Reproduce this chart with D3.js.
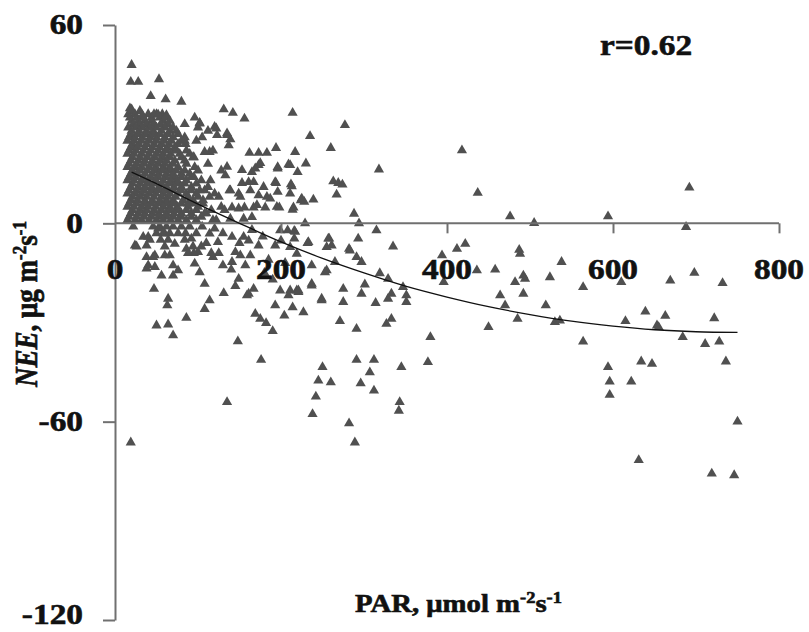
<!DOCTYPE html>
<html>
<head>
<meta charset="utf-8">
<script src="https://cdn.jsdelivr.net/npm/d3@7"></script>
<style>
  body { margin: 0; background: #fff; }
  svg { display: block; }
  text { font-family: "Liberation Serif", "Times New Roman", serif; font-weight: bold; fill: #111; stroke: #111; stroke-width: 0.6; }
  .axis path, .axis line { stroke: #707070; stroke-width: 2; }
  .pt { fill: #505050; }
  .fit { fill: none; stroke: #111; stroke-width: 1.3; }
</style>
</head>
<body>
<svg id="chart"></svg>
<script>
const width = 809, height = 632;

const xTicks = [0, 200, 400, 600, 800];
const yTicks = [60, 0, -60, -120];

// dense core near low PAR: one NEE row and the PAR values read along it
const denseNee = [34, 33, 32, 31, 30, 29, 28, 27, 26, 25, 24, 23, 22, 21, 20, 19, 18,
  17, 16, 15, 14, 13, 12, 11, 10, 9, 8, 7, 6, 5, 4, 3, 2, 1];
const densePar = [
  [20, 30],
  [16, 24, 40, 50],
  [18, 26, 34, 44, 54, 62],
  [20, 28, 36, 44, 58, 66],
  [22, 30, 38, 47, 55, 64],
  [16, 25, 33, 42, 50, 60, 70],
  [20, 29, 38, 46, 56, 66, 74],
  [19, 28, 37, 46, 54, 64, 76],
  [17, 24, 33, 42, 50, 60, 70, 84],
  [15, 23, 32, 41, 50, 59, 68, 80],
  [21, 29, 38, 47, 56, 65, 76],
  [19, 27, 36, 45, 54, 63, 72],
  [17, 25, 34, 43, 52, 62, 72, 86],
  [15, 23, 32, 41, 50, 58, 67, 78, 90],
  [21, 30, 39, 48, 57, 66, 80, 94],
  [19, 28, 36, 45, 54, 62, 72, 84],
  [17, 26, 35, 44, 52, 60, 70, 86],
  [15, 24, 32, 41, 49, 58, 66, 76, 96],
  [21, 30, 39, 48, 57, 66, 74, 84, 100],
  [19, 27, 36, 45, 53, 62, 70, 80, 90],
  [17, 25, 34, 43, 52, 61, 70, 80, 95],
  [15, 23, 32, 40, 49, 58, 67, 75, 86, 104],
  [21, 30, 39, 47, 56, 66, 75, 84, 98],
  [19, 28, 36, 44, 53, 62, 71, 80, 92, 112],
  [17, 26, 35, 44, 53, 62, 70, 80, 92, 108],
  [15, 24, 32, 41, 49, 58, 66, 76, 86, 98, 120],
  [21, 30, 38, 47, 56, 64, 73, 88, 100, 114],
  [19, 27, 36, 45, 54, 62, 70, 82, 94, 106],
  [17, 26, 35, 44, 53, 62, 70, 80, 94, 106],
  [15, 23, 32, 40, 49, 58, 66, 75, 88, 100, 128],
  [21, 30, 38, 47, 56, 66, 75, 86, 98, 116],
  [19, 28, 36, 45, 53, 62, 71, 80, 92, 110],
  [17, 26, 35, 44, 53, 62, 70, 80, 92, 104],
  [15, 24, 32, 41, 50, 58, 67, 76, 86, 98, 118]
];

// [PAR, NEE] above the zero line
const pointsAbove = [
  [20,47.9],[19,42.8],[28,42.8],[53,43.6],[43,38.5],[61,37.5],[80,36.8],[20,34.5],[33,32.7],[47,33],
  [57,33],[131,34.5],[142,33.4],[156,31.7],[214,33.4],[102,30.4],[122,28.7],[135,27.2],[139,25.4],[162,21.3],
  [173,21.3],[183,21.3],[194,22.8],[217,21.6],[175,18.2],[196,17],[211,17.6],[165,15.5],[153,12.2],[167,12.5],
  [179,11],[194,12.2],[212,11.8],[151,8],[183,8],[196,9.5],[211,9],[141,4.8],[156,4.8],[167,4.8],
  [181,4.8],[198,4.8],[215,4.8],[277,29.7],[235,26.4],[260,22.8],[418,22.1],[209,17.8],[230,18.1],[318,16.3],
  [220,15.5],[263,12.7],[269,12.2],[274,11.7],[213,11.2],[267,8.7],[437,9.2],[224,7],[228,6.5],[239,7.2],
  [214,4.1],[288,2.9],[476,2.1],[505,0.1],[229,0],[294,0],[594,2.1],[692,10.8],[18,34.8],[52,32.9],
  [62,32.7],[102,30.2],[84,25],[98,25],[120,29.2],[123,26.7],[114,21.6],[108,21.6],[74,22.1],[139,10],
  [149,9],[161,12.5],[163,10],[173,8.5],[187,7.5],[193,12.5],[225,7.5],[195,5],[171,5.5],[149,4.5],
  [139,1.4],[155,1.4],[165,1.9],[135,26.7],[137,23.6],[173,17.6],[169,16.6],[196,16.6],[153,16.1],[135,17.1],
  [133,14.5],[85,24],[95,20],[105,26],[112,18],[92,14],[102,10],[115,13],[125,8],[88,6],
  [108,3],[122,1],[132,4],[138,10],[128,16],[118,22],[100,29],[84,30],[112,28],[96,32]
];

// [PAR, NEE] below the zero line
const pointsBelow = [
  [199,-2.1],[208,-2.1],[216,-2.3],[200,-5.2],[315,-2.1],[216,-4.6],[232,-6],[258,-4.6],[261,-6.7],[293,-4.6],
  [335,-7],[422,-6.2],[412,-7.7],[282,-7.7],[487,-8],[688,-1.1],[24,-6.7],[38,-6.7],[38,-10.2],[46,-10.2],
  [38,-13.7],[56,-15.8],[47,-19.8],[64,-22.8],[63,-24.8],[50,-30.9],[64,-30.6],[70,-33.9],[86,-28.6],[114,-23.3],
  [108,-25.9],[131,-21.1],[148,-35.7],[176,-41.3],[135,-54.1],[19,-66.3],[159,-21.8],[167,-19.8],[169,-27.4],[175,-28.9],
  [182,-30.2],[190,-32.6],[193,-24.8],[204,-27.9],[214,-25.4],[199,-20.3],[209,-21.8],[219,-20.3],[283,-8.2],[291,-10.2],
  [297,-11.7],[265,-11.7],[255,-14.2],[237,-12.7],[237,-18.3],[221,-20.3],[227,-26.9],[249,-22.8],[275,-19.8],[275,-23.8],
  [271,-29.6],[291,-31.9],[297,-21.3],[301,-18.5],[314,-24.1],[319,-15.1],[329,-16.8],[329,-22.8],[333,-21.3],[347,-19.3],
  [351,-21.8],[351,-23.8],[327,-30.4],[333,-28.9],[380,-34.4],[377,-42],[394,-9.7],[396,-17.8],[436,-14.2],[458,-14],
  [464,-21.8],[470,-24.8],[450,-31.4],[488,-9.2],[482,-17.8],[492,-15.8],[494,-16.8],[492,-21.3],[485,-28.9],[519,-24.8],
  [524,-16.3],[538,-11.7],[530,-29.9],[536,-29.4],[250,-43.5],[245,-47.6],[260,-48.1],[242,-52.4],[238,-57.7],[282,-60.5],
  [289,-66.3],[291,-41.3],[312,-41.3],[307,-45.1],[296,-48.4],[312,-50.6],[345,-43.5],[343,-54.1],[342,-56.7],[564,-19.3],
  [610,-17.8],[669,-17.3],[698,-15],[732,-18.1],[639,-26.7],[663,-28],[615,-29.6],[653,-30.9],[655,-31.4],[722,-28.7],
  [684,-34.4],[711,-36.5],[728,-35.8],[564,-35.8],[634,-41.8],[647,-42.5],[736,-41.8],[594,-43.5],[596,-47.9],[596,-51.9],
  [622,-47.9],[750,-60],[631,-71.6],[719,-75.7],[746,-76.2],[34,-4.1],[40,-4.1],[52,-1.6],[60,-3.1],[72,-6.2],
  [66,-9.7],[60,-9.7],[48,-9.7],[40,-12.7],[48,-13.2],[70,-12.7],[70,-15.8],[76,-14.2],[86,-7.7],[92,-4.6],
  [100,-8.7],[96,-12.2],[102,-14.8],[108,-18.3],[118,-10.2],[114,-3.1],[120,-1.6],[124,-5.7],[130,-12.7],[141,-4.1],
  [155,-4.1],[161,-5.2],[173,-6.7],[193,-6.7],[211,-7.2],[233,-5.7],[219,-9.2],[255,-7.2],[257,-4.6],[145,-8.7],
  [151,-9.7],[163,-9.7],[141,-11.7],[157,-12.7],[253,-14.8],[149,-16.8],[211,-20.3],[221,-20.8],[237,-18.8],[249,-23.3],
  [161,-21.3],[217,-2.6],[85,-3],[95,-9],[110,-6],[125,-9],[140,-14],[150,-6],[165,-2],[178,-4],
  [185,-11],[180,-15],[190,-17],[205,-12],[145,-19],[22,-1],[46,-1],[54,-1],[62,-1],[70,-1],
  [80,-1],[90,-1],[105,-1],[50,-3],[58,-3],[66,-3],[76,-3],[98,-3],[130,-3],[42,-5],
  [55,-5],[64,-5],[84,-5],[26,-7],[60,-7],[94,-7],[104,-7],[88,-9],[116,-9]
];

// fitted curve at these PAR values
const fitPar = [20, 50, 100, 150, 200, 250, 300, 350, 400, 450, 500, 550, 600, 650, 700, 750];
const fitNee = [15.5, 12, 5.8, 0, -5.6, -10.6, -15, -19, -22.3, -25.2, -27.6, -29.6, -31.1, -32.2, -32.8, -33];

const points = [];
denseNee.forEach((n, i) => densePar[i].forEach(p => points.push([p, n])));
pointsAbove.forEach(d => points.push(d));
pointsBelow.forEach(d => points.push(d));

const svg = d3.select('#chart').attr('width', width).attr('height', height);

const x = d3.scaleLinear().domain([0, 800]).range([115, 779]);
const y = d3.scaleLinear().domain([-120, 60]).range([620, 25]);
const sx = 1.15; // glyphs in the picture are a bit wide

// triangles
const tri = d3.symbol(d3.symbolTriangle, 45);
svg.append('g')
  .selectAll('path')
  .data(points)
  .join('path')
  .attr('class', 'pt')
  .attr('d', tri)
  .attr('transform', d => `translate(${x(d[0])},${y(d[1])})`);

// axes
svg.append('g')
  .attr('class', 'axis')
  .attr('transform', `translate(0,${y(0)})`)
  .call(d3.axisBottom(x).tickValues(xTicks.slice(1)).tickSize(10).tickSizeOuter(0).tickFormat(''))
  .call(g => g.select('.domain').attr('d', `M${x(0)},0H${x(800)}`));
svg.append('g')
  .attr('class', 'axis')
  .attr('transform', `translate(${x(0)},0)`)
  .call(d3.axisLeft(y).tickValues(yTicks).tickSize(12).tickSizeOuter(0).tickFormat(''));

// fit line
const fit = fitPar.map((p, i) => [p, fitNee[i]]);
svg.append('path')
  .datum(fit)
  .attr('class', 'fit')
  .attr('d', d3.line().x(d => x(d[0])).y(d => y(d[1])).curve(d3.curveMonotoneX));

// tick labels (lowest one nudged up so it stays inside the page)
svg.append('g')
  .selectAll('text')
  .data(yTicks)
  .join('text')
  .attr('text-anchor', 'end')
  .attr('dy', '0.32em')
  .style('font-size', '29px')
  .attr('transform', d => `translate(83,${Math.min(y(d), 615)}) scale(${sx},1)`)
  .text(d => d);
svg.append('g')
  .selectAll('text')
  .data(xTicks)
  .join('text')
  .attr('text-anchor', 'middle')
  .style('font-size', '29px')
  .attr('transform', d => `translate(${x(d)},${y(0) + 56}) scale(${sx},1)`)
  .text(d => d);

svg.append('text')
  .style('font-size', '29px')
  .attr('transform', `translate(600,55) scale(${sx},1)`)
  .text('r=0.62');

// axis titles
const yt = svg.append('text')
  .attr('text-anchor', 'middle')
  .style('font-size', '27px')
  .attr('transform', `translate(37,304) scale(${sx},1) rotate(-90)`);
yt.append('tspan').style('font-style', 'italic').text('NEE');
yt.append('tspan').text(', μg m');
yt.append('tspan').style('font-size', '17px').attr('dy', -10).text('-2');
yt.append('tspan').attr('dy', 10).text('s');
yt.append('tspan').style('font-size', '17px').attr('dy', -10).text('-1');

const xt = svg.append('text')
  .style('font-size', '25px')
  .attr('transform', `translate(355,612) scale(${sx},1)`);
xt.append('tspan').text('PAR, μmol m');
xt.append('tspan').style('font-size', '16px').attr('dy', -9).text('-2');
xt.append('tspan').attr('dy', 9).text('s');
xt.append('tspan').style('font-size', '16px').attr('dy', -9).text('-1');
</script>
</body>
</html>
